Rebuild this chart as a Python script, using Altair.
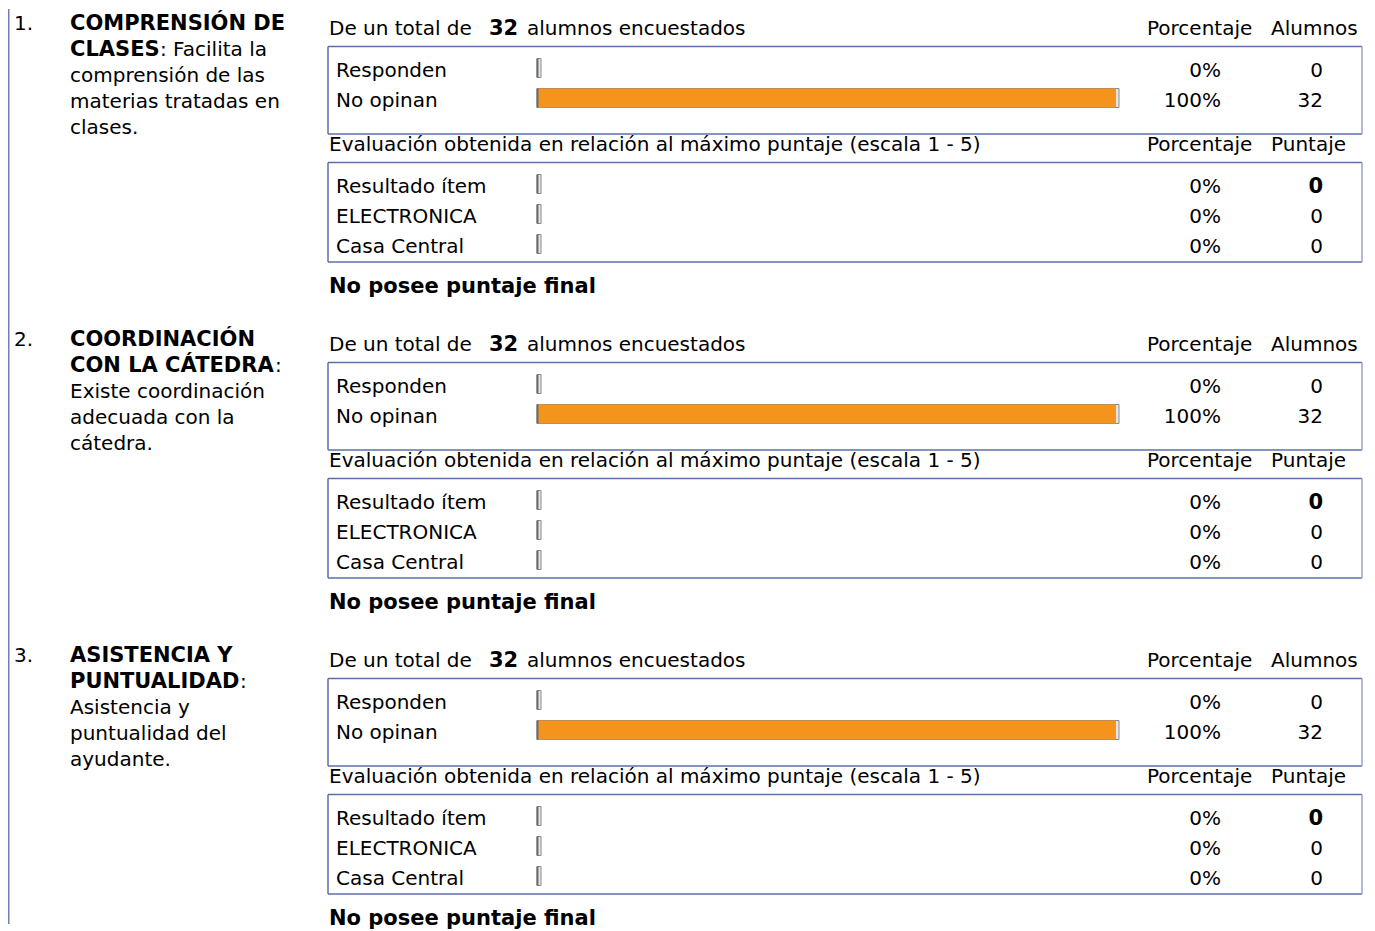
import altair as alt
import pandas as pd

W, H = 1359, 915
OX, OY = 8, 11          # page offset of the reference picture
FONT = "DejaVu Sans"
FS = 20
FSB = 21
ORANGE = "#F5941C"
BORDER = "#5d70a8"
BORDER_R = "#9aa4c6"

# ---------------- data ----------------
total_alumnos = 32
numeros = ["1.", "2.", "3."]
titulos_l1 = ["COMPRENSIÓN DE", "COORDINACIÓN", "ASISTENCIA Y"]
titulos_l2 = ["CLASES", "CON LA CÁTEDRA", "PUNTUALIDAD"]
desc_l2 = [": Facilita la", ":", ":"]
desc_resto = [
    ["comprensión de las", "materias tratadas en", "clases."],
    ["Existe coordinación", "adecuada con la", "cátedra."],
    ["Asistencia y", "puntualidad del", "ayudante."],
]
resp_labels = ["Responden", "No opinan"]
resp_pct = [[0, 100], [0, 100], [0, 100]]
resp_n = [[0, 32], [0, 32], [0, 32]]
eval_labels = ["Resultado ítem", "ELECTRONICA", "Casa Central"]
eval_pct = [[0, 0, 0], [0, 0, 0], [0, 0, 0]]
eval_pts = [[0, 0, 0], [0, 0, 0], [0, 0, 0]]
header_resp = ["De un total de", "alumnos encuestados", "Porcentaje", "Alumnos"]
header_eval = ["Evaluación obtenida en relación al máximo puntaje (escala 1 - 5)",
               "Porcentaje", "Puntaje"]
sin_puntaje = "No posee puntaje final"

# ---------------- layout tables ----------------
colon_x = [160, 275, 240]
SEC = 316
texts, bars, lines = [], [], []


def T(x, y, s, w="normal", a="left"):
    texts.append(dict(x=x - OX, y=y - OY, t=s, w=w, a=a))


def L(x1, y1, x2, y2, c):
    lines.append(dict(x=x1 - OX, y=y1 - OY, x2=x2 - OX, y2=y2 - OY, c=c))


def box(top, bottom):
    L(328, top, 1362, top, BORDER)
    L(328, top, 328, bottom, BORDER)
    L(328, bottom, 1362, bottom, BORDER)
    L(1362, top, 1362, bottom, BORDER_R)


def B(base, pct):
    bars.append(dict(y0=base - 18.5 - OY, y1=base + 0.5 - OY, zero=0, pct=pct))


for k in range(3):
    d = SEC * k
    T(14, 31.5 + d, numeros[k])
    T(70, 31.5 + d, titulos_l1[k], "bold")
    T(70, 57.5 + d, titulos_l2[k], "bold")
    T(colon_x[k], 57.5 + d, desc_l2[k])
    for j, line in enumerate(desc_resto[k]):
        T(70, 83.5 + 26 * j + d, line)

    T(329, 36.5 + d, header_resp[0])
    T(489, 36.5 + d, str(total_alumnos), "bold")
    T(527, 36.5 + d, header_resp[1])
    T(1147, 36.5 + d, header_resp[2])
    T(1271, 36.5 + d, header_resp[3])
    box(48.5 + d, 136 + d)
    for j, lab in enumerate(resp_labels):
        b = 79 + 30 * j + d
        T(336, b, lab)
        T(1221, b, f"{resp_pct[k][j]}%", a="right")
        T(1323, b, str(resp_n[k][j]), a="right")
        B(b, resp_pct[k][j])

    T(329, 153 + d, header_eval[0])
    T(1147, 153 + d, header_eval[1])
    T(1271, 153 + d, header_eval[2])
    box(164.5 + d, 264 + d)
    for j, lab in enumerate(eval_labels):
        b = 195 + 30 * j + d
        T(336, b, lab)
        T(1221, b, f"{eval_pct[k][j]}%", a="right")
        T(1323, b, str(eval_pts[k][j]), "bold" if j == 0 else "normal", a="right")
        B(b, eval_pct[k][j])

    T(329, 294.5 + d, sin_puntaje, "bold")

# page left line (kept inside the drawing area)
lines.append(dict(x=0.75, y=0, x2=0.75, y2=H, c="#7080b0"))

tdf = pd.DataFrame(texts)
bdf = pd.DataFrame(bars)
ldf = pd.DataFrame(lines)

px = dict(scale=None, axis=None)


def text_layer(w, a, size):
    sub = tdf[(tdf.w == w) & (tdf.a == a)]
    return alt.Chart(sub).mark_text(
        font=FONT, fontSize=size, fontWeight=w, align=a,
        baseline="alphabetic", color="#000000"
    ).encode(
        x=alt.X("x:Q", **px), y=alt.Y("y:Q", **px), text="t:N"
    )


bar_scale = alt.Scale(domain=[0, 100], range=[538 - OX, 1116 - OX])

frame = alt.Chart(bdf).mark_rect(
    fill="#e6e6e6", stroke="#8a8a8a", strokeWidth=1, xOffset=-1, x2Offset=3
).encode(
    x=alt.X("zero:Q", scale=bar_scale, axis=None), x2="pct:Q",
    y=alt.Y("y0:Q", **px), y2="y1:Q",
)
fill = alt.Chart(bdf[bdf.pct > 0]).mark_rect(color=ORANGE).encode(
    x=alt.X("zero:Q", scale=bar_scale, axis=None), x2="pct:Q",
    y=alt.Y("y0:Q", **px), y2="y1:Q",
)
left_edge = alt.Chart(bdf).mark_rule(color="#6a6a6a", strokeWidth=2, xOffset=-0.5).encode(
    x=alt.X("zero:Q", scale=bar_scale, axis=None),
    y=alt.Y("y0:Q", **px), y2="y1:Q",
)

rules = alt.Chart(ldf).mark_rule(strokeWidth=1.5).encode(
    x=alt.X("x:Q", **px), x2="x2:Q", y=alt.Y("y:Q", **px), y2="y2:Q",
    color=alt.Color("c:N", scale=None),
)

chart = alt.layer(
    rules, frame, fill, left_edge,
    text_layer("normal", "left", FS),
    text_layer("normal", "right", FS),
    text_layer("bold", "left", FSB),
    text_layer("bold", "right", FSB),
).resolve_scale(x="independent", y="independent").properties(
    width=W, height=H, padding=0, background="#ffffff"
).configure_view(stroke=None)

chart.save("out.html", embed_options={"renderer": "svg", "actions": False})
